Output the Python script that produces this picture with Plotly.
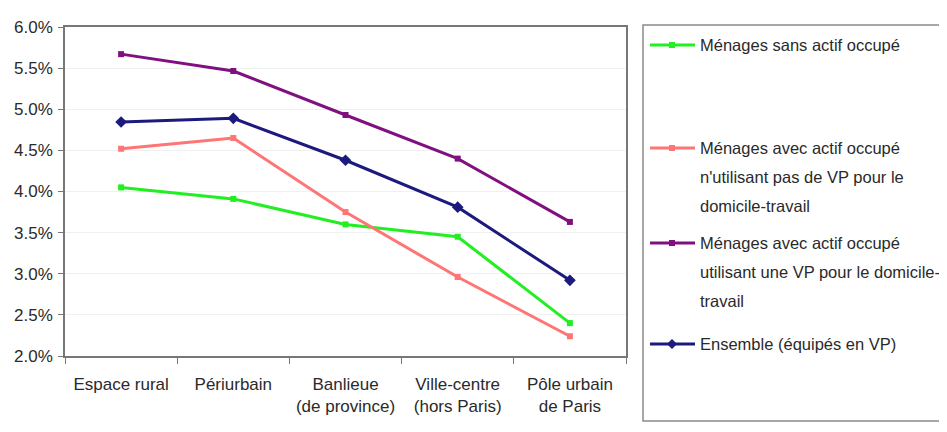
import plotly.graph_objects as go

categories = ["Espace rural", "Périurbain", "Banlieue<br>(de province)",
              "Ville-centre<br>(hors Paris)", "Pôle urbain<br>de Paris"]
series_names = [
    ["Ménages sans actif occupé"],
    ["Ménages avec actif occupé", "n'utilisant pas de VP pour le", "domicile-travail"],
    ["Ménages avec actif occupé", "utilisant une VP pour le domicile-", "travail"],
    ["Ensemble (équipés en VP)"],
]
sans_actif = [4.05, 3.91, 3.60, 3.45, 2.40]
actif_sans_vp = [4.52, 4.65, 3.75, 2.96, 2.24]
actif_avec_vp = [5.67, 5.465, 4.93, 4.40, 3.63]
ensemble = [4.845, 4.89, 4.38, 3.81, 2.92]
y_ticks = [2.0, 2.5, 3.0, 3.5, 4.0, 4.5, 5.0, 5.5, 6.0]

values = [sans_actif, actif_sans_vp, actif_avec_vp, ensemble]
colors = ["#22ee22", "#ff7474", "#801080", "#1c1a7c"]
symbols = ["square", "square", "square", "diamond"]
msizes = [6, 6, 6, 9]

FONT = "Liberation Sans, Arial, sans-serif"
FS = 17
LFS = 16.5
TXT = "#2a2a2a"
OFF = 8  # page body margin
W, H = 939, 424
L, R, T, B = 65 - OFF, 626 - OFF, 27 - OFF, 356 - OFF

fig = go.Figure()
for vals, col, sym, ms in zip(values, colors, symbols, msizes):
    fig.add_trace(go.Scatter(
        x=categories, y=[v / 100 for v in vals], mode="lines+markers",
        line=dict(color=col, width=3),
        marker=dict(symbol=sym, size=ms, color=col),
        showlegend=False, hoverinfo="skip"))

def px(x):
    return (x - OFF - L) / (R - L)

def py(y):
    return (B - (y - OFF)) / (B - T)

shapes = []
annotations = []
# legend box
shapes.append(dict(type="rect", xref="paper", yref="paper",
                   x0=px(643), x1=px(975), y0=py(25), y1=py(421),
                   line=dict(color="#8a8a8a", width=1.5), fillcolor="white", layer="below"))
legend_y = [45, 148, 243, 344]
for lines, col, sym, ly in zip(series_names, colors, symbols, legend_y):
    shapes.append(dict(type="line", xref="paper", yref="paper",
                       x0=px(650), x1=px(695), y0=py(ly), y1=py(ly),
                       line=dict(color=col, width=3)))
    cx = 672
    if sym == "square":
        s = 3
        shapes.append(dict(type="rect", xref="paper", yref="paper",
                           x0=px(cx - s), x1=px(cx + s), y0=py(ly - s), y1=py(ly + s),
                           line=dict(color=col, width=0), fillcolor=col))
    else:
        d = 5
        path = (f"M {px(cx - d)} {py(ly)} L {px(cx)} {py(ly - d)} "
                f"L {px(cx + d)} {py(ly)} L {px(cx)} {py(ly + d)} Z")
        shapes.append(dict(type="path", xref="paper", yref="paper", path=path,
                           line=dict(color=col, width=0), fillcolor=col))
    for i, t in enumerate(lines):
        annotations.append(dict(xref="paper", yref="paper", x=px(698), y=py(ly + i * 29),
                                text=t, showarrow=False, xanchor="left", yanchor="middle",
                                font=dict(family=FONT, size=LFS, color=TXT)))

fig.update_layout(
    width=W, height=H,
    margin=dict(l=L, r=W - R, t=T, b=H - B, pad=0, autoexpand=False),
    paper_bgcolor="white", plot_bgcolor="white",
    font=dict(family=FONT, size=FS, color=TXT),
    shapes=shapes, annotations=annotations,
    xaxis=dict(type="category", tickson="boundaries", ticks="outside", ticklen=6,
               tickcolor="#777", showline=True, linecolor="#777", linewidth=1.5,
               mirror=True, showgrid=False, tickfont=dict(size=FS, color=TXT),
               tickangle=0, automargin=False, ticklabelstandoff=12,
               range=[-0.5, 4.5], fixedrange=True),
    yaxis=dict(range=[0.02, 0.06], tickvals=[v / 100 for v in y_ticks],
               ticktext=[f"{v:.1f}%" for v in y_ticks],
               ticks="outside", ticklen=5, tickcolor="#777", ticklabelstandoff=2,
               showline=True, linecolor="#777", linewidth=1.5, mirror=True,
               showgrid=True, gridcolor="#f0f0f0", gridwidth=1, automargin=False,
               zeroline=False, tickfont=dict(size=FS, color=TXT)),
)

fig.write_html("out.html")
